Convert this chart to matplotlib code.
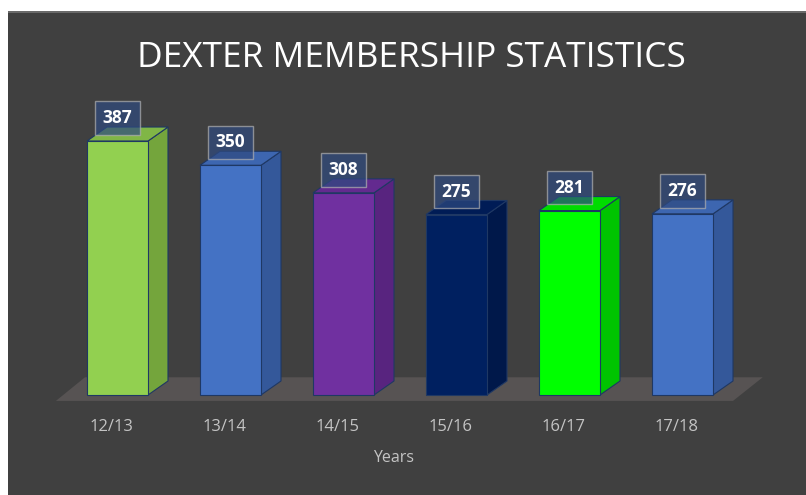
import matplotlib.pyplot as plt
from matplotlib.patches import Polygon, Rectangle

# data
years = ['12/13', '13/14', '14/15', '15/16', '16/17', '17/18']
members = [387, 350, 308, 275, 281, 276]

# front / top / side face colours for each bar
front_cols = ['#92d050', '#4472c4', '#7030a0', '#002060', '#00ff00', '#4472c4']
top_cols = ['#80b646', '#3d66b0', '#632a8f', '#001c56', '#00dc00', '#3d66b0']
side_cols = ['#74a53c', '#34589a', '#58247f', '#00184a', '#00c400', '#34589a']

bg = '#404040'
W, H = 806, 495
fig = plt.figure(figsize=(W / 100, H / 100), dpi=100, facecolor='white')

# dark chart area (white strip on top and left like the screenshot)
fig.patches.append(Rectangle((8 / W, 0), 798 / W, 484 / H, transform=fig.transFigure,
                             facecolor=bg, edgecolor='none', zorder=-2))
fig.patches.append(Rectangle((8 / W, 482 / H), 798 / W, 2 / H, transform=fig.transFigure,
                             facecolor='#6a6a6a', edgecolor='none', zorder=-1))

ax = fig.add_axes([0, 0, 1, 1])
ax.set_facecolor('none')
ax.axis('off')

# pixel -> data scaling: 113 px per category, 0.6563 px per member
px_x = 113.0
px_y = 0.6563
ax.set_xlim(-117.5 / px_x, (W - 117.5) / px_x)
ax.set_ylim(-100 / px_y, (H - 100) / px_y)

bw = 61 / px_x        # bar width
dx = 20 / px_x        # depth offset in x
dy = 14 / px_y        # depth offset in y

# floor
floor = Polygon([(-0.545, -9), (5.447, -9), (5.71, 27), (-0.288, 27)],
                closed=True, facecolor='#575353', edgecolor='none', zorder=1)
ax.add_patch(floor)

edge = '#1f3864'
for i, (v, fc, tc, sc) in enumerate(zip(members, front_cols, top_cols, side_cols)):
    xl = i - bw / 2
    xr = i + bw / 2
    ax.add_patch(Polygon([(xr, 0), (xr + dx, dy), (xr + dx, v + dy), (xr, v)],
                         closed=True, facecolor=sc, edgecolor=edge, lw=0.8, zorder=2))
    ax.add_patch(Polygon([(xl, v), (xr, v), (xr + dx, v + dy), (xl + dx, v + dy)],
                         closed=True, facecolor=tc, edgecolor=edge, lw=0.8, zorder=2))
    ax.bar(i, v, width=bw, color=fc, edgecolor=edge, lw=0.8, zorder=3)
    ax.text(i, v + 35, str(v), ha='center', va='center', color='white',
            fontsize=12.5, fontweight='bold', family='Open Sans', zorder=5,
            bbox=dict(boxstyle='square,pad=0.45', facecolor='#2f4a80', alpha=0.7,
                      edgecolor='#b0b0b0', lw=1))
    ax.text(i - 0.055, -49, years[i], ha='center', va='center', color='#c4c4c4',
            fontsize=12, family='Open Sans', zorder=5)

ax.text(2.5 - 0.055, -96, 'Years', ha='center', va='center', color='#c4c4c4',
        fontsize=11.5, family='Open Sans')

fig.text(411 / W, 1 - 58 / H, 'DEXTER MEMBERSHIP STATISTICS', ha='center', va='center',
         color='white', fontsize=25.4, family='Open Sans')

fig.savefig('out.png', dpi=100, facecolor=fig.get_facecolor())
